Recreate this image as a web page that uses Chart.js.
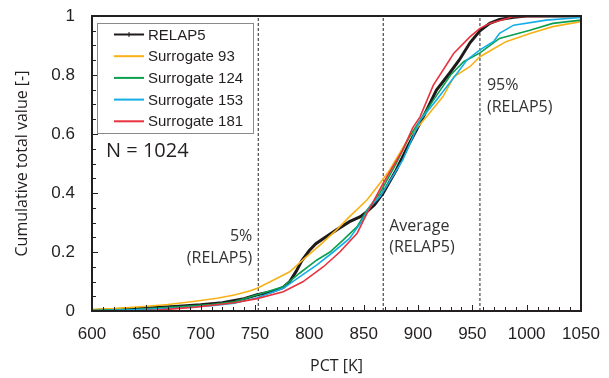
<!DOCTYPE html>
<html>
<head>
<meta charset="utf-8">
<script src="https://cdn.jsdelivr.net/npm/chart.js@4"></script>
<style>
  html, body { margin: 0; padding: 0; background: #fff; }
  #wrap { width: 609px; height: 378px; position: relative; }
</style>
</head>
<body>
<div id="wrap"><canvas id="cdfChart"></canvas></div>
<script>
// PCT [K] / cumulative value pairs
const relapPct = [600, 640, 680, 700, 720, 740, 752, 765, 776, 782, 788, 793, 800, 806, 813, 825, 837, 847, 853, 860, 868, 880, 892, 905, 917, 929, 938, 948, 957, 966, 975, 988, 1000, 1050];
const relapCdf = [0.002, 0.008, 0.016, 0.021, 0.028, 0.042, 0.055, 0.065, 0.08, 0.1, 0.135, 0.17, 0.205, 0.228, 0.246, 0.275, 0.303, 0.32, 0.337, 0.36, 0.40, 0.478, 0.568, 0.659, 0.749, 0.806, 0.851, 0.91, 0.95, 0.975, 0.988, 0.996, 1.0, 1.0];

const s93Pct = [600, 620, 648, 670, 695, 715, 731, 745, 752, 764, 782, 794, 810, 825, 837, 853, 865, 874, 892, 908, 923, 933, 948, 957, 970, 981, 1003, 1024, 1050];
const s93Cdf = [0.005, 0.008, 0.015, 0.022, 0.033, 0.043, 0.054, 0.068, 0.077, 0.099, 0.133, 0.173, 0.224, 0.275, 0.32, 0.376, 0.433, 0.478, 0.59, 0.659, 0.727, 0.794, 0.829, 0.862, 0.89, 0.913, 0.941, 0.964, 0.981];

const s124Pct = [600, 640, 680, 710, 731, 752, 776, 791, 807, 819, 831, 844, 853, 865, 880, 892, 905, 917, 930, 942, 957, 975, 1003, 1024, 1050];
const s124Cdf = [0.002, 0.006, 0.014, 0.022, 0.031, 0.055, 0.082, 0.128, 0.173, 0.2, 0.24, 0.286, 0.342, 0.40, 0.50, 0.59, 0.665, 0.73, 0.80, 0.845, 0.875, 0.924, 0.952, 0.975, 0.986];

const s153Pct = [600, 640, 680, 710, 731, 752, 776, 791, 807, 822, 837, 847, 856, 865, 886, 902, 917, 936, 945, 957, 970, 975, 988, 1018, 1050];
const s153Cdf = [0.001, 0.004, 0.01, 0.018, 0.026, 0.045, 0.077, 0.116, 0.156, 0.2, 0.246, 0.297, 0.354, 0.387, 0.512, 0.647, 0.715, 0.806, 0.851, 0.885, 0.915, 0.941, 0.969, 0.986, 0.995];

const s181Pct = [600, 634, 660, 695, 731, 752, 776, 794, 813, 828, 844, 853, 868, 886, 895, 902, 914, 929, 933, 948, 957, 966, 988, 1050];
const s181Cdf = [0.0, 0.0, 0.003, 0.013, 0.028, 0.042, 0.065, 0.099, 0.15, 0.2, 0.263, 0.331, 0.433, 0.546, 0.62, 0.659, 0.765, 0.851, 0.874, 0.93, 0.958, 0.975, 0.998, 1.0];

const seriesNames = ['RELAP5', 'Surrogate 93', 'Surrogate 124', 'Surrogate 153', 'Surrogate 181'];
const seriesColors = ['#1e1a1a', '#f7b217', '#0aa04f', '#14aee6', '#e8323e'];

// RELAP5 reference lines: 5%, average, 95%
const refPct = [753, 868, 957];
const xTicks = [600, 650, 700, 750, 800, 850, 900, 950, 1000, 1050];
const yTicks = [0, 0.2, 0.4, 0.6, 0.8, 1];

const pairs = (xs, ys) => xs.map((x, i) => ({ x, y: ys[i] }));
const curves = [
    pairs(relapPct, relapCdf),
    pairs(s93Pct, s93Cdf),
    pairs(s124Pct, s124Cdf),
    pairs(s153Pct, s153Cdf),
    pairs(s181Pct, s181Cdf)
];

const datasets = curves.map((d, i) => ({
    label: seriesNames[i],
    data: d,
    showLine: true,
    borderColor: seriesColors[i],
    backgroundColor: seriesColors[i],
    borderWidth: i === 0 ? 3 : 1.6,
    pointRadius: 0,
    tension: 0,
    order: 5 - i
}));

refPct.forEach(v => datasets.push({
    label: 'ref',
    data: [{ x: v, y: 0 }, { x: v, y: 1 }],
    showLine: true,
    borderColor: '#222',
    borderWidth: 1,
    borderDash: [3, 2],
    pointRadius: 0,
    order: 10
}));

const LABEL_FONT = '"Liberation Sans", Arial, sans-serif';
const NOTE_FONT = '"Open Sans", sans-serif';

// frame, inward ticks, legend, notes and axis titles
const decor = {
    id: 'decor',
    afterDraw(chart) {
        const { ctx, chartArea: a, scales: { x, y } } = chart;
        ctx.save();

        // inward ticks
        ctx.strokeStyle = '#231f20';
        ctx.lineWidth = 1;
        ctx.beginPath();
        for (let v = 600; v <= 1050; v += 10) {
            const px = Math.round(x.getPixelForValue(v)) + 0.5;
            ctx.moveTo(px, a.bottom);
            ctx.lineTo(px, a.bottom - (v % 50 === 0 ? 6 : 4));
        }
        for (let k = 0; k <= 20; k++) {
            const py = Math.round(y.getPixelForValue(k * 0.05)) + 0.5;
            ctx.moveTo(a.left, py);
            ctx.lineTo(a.left + (k % 4 === 0 ? 6 : 4), py);
        }
        ctx.stroke();

        // frame
        ctx.lineWidth = 2;
        ctx.strokeStyle = '#231f20';
        ctx.strokeRect(a.left, a.top, a.right - a.left, a.bottom - a.top);

        // legend box
        ctx.lineWidth = 1;
        ctx.strokeStyle = '#8a8a8a';
        ctx.strokeRect(97.5, 23.5, 156, 110);
        ctx.font = '15px ' + LABEL_FONT;
        ctx.textBaseline = 'middle';
        ctx.textAlign = 'left';
        seriesNames.forEach((name, i) => {
            const ly = 34.5 + i * 21.7;
            ctx.strokeStyle = seriesColors[i];
            ctx.lineWidth = 2;
            ctx.beginPath();
            ctx.moveTo(114, ly);
            ctx.lineTo(144, ly);
            ctx.stroke();
            if (i === 0) {
                ctx.lineWidth = 1;
                ctx.beginPath();
                ctx.moveTo(129, ly - 2.5);
                ctx.lineTo(129, ly + 2.5);
                ctx.stroke();
            }
            ctx.fillStyle = '#231f20';
            ctx.fillText(name, 148, ly + 1);
        });

        // N label
        ctx.font = '20px ' + NOTE_FONT;
        ctx.fillStyle = '#231f20';
        ctx.fillText('N = 1024', 106, 151);

        // reference notes
        ctx.font = '16px ' + NOTE_FONT;
        ctx.fillStyle = '#333';
        const x5 = x.getPixelForValue(refPct[0]);
        const xa = x.getPixelForValue(refPct[1]);
        const x95 = x.getPixelForValue(refPct[2]);
        ctx.textAlign = 'right';
        ctx.fillText('5%', x5 - 6, 236);
        ctx.fillText('(RELAP5)', x5 - 6, 258);
        ctx.textAlign = 'left';
        ctx.fillText('Average', xa + 6, 226);
        ctx.fillText('(RELAP5)', xa + 6, 247);
        ctx.fillText('95%', x95 + 7, 85);
        ctx.fillText('(RELAP5)', x95 + 7, 107);

        // axis titles
        ctx.font = '16px ' + NOTE_FONT;
        ctx.fillStyle = '#231f20';
        ctx.textAlign = 'center';
        ctx.fillText('PCT [K]', (a.left + a.right) / 2, 366);
        ctx.translate(22, (a.top + a.bottom) / 2);
        ctx.rotate(-Math.PI / 2);
        ctx.fillText('Cumulative total value [-]', 0, 0);

        ctx.restore();
    }
};

new Chart(document.getElementById('cdfChart'), {
    type: 'scatter',
    data: { datasets },
    options: {
        responsive: true,
        maintainAspectRatio: false,
        animation: false,
        layout: { autoPadding: false, padding: { top: 16, right: 28, left: 0, bottom: 0 } },
        plugins: {
            legend: { display: false },
            tooltip: { enabled: false }
        },
        scales: {
            x: {
                type: 'linear', min: 600, max: 1050,
                afterFit: s => { s.height = 67; s.paddingLeft = 0; s.paddingRight = 0; },
                afterBuildTicks: s => { s.ticks = xTicks.map(v => ({ value: v })); },
                grid: { display: false, drawTicks: false },
                border: { display: false },
                ticks: { color: '#231f20', padding: 13, maxRotation: 0, font: { family: LABEL_FONT, size: 17 },
                         callback: v => String(v) }
            },
            y: {
                min: 0, max: 1,
                afterFit: s => { s.width = 92; s.paddingTop = 0; s.paddingBottom = 0; },
                afterBuildTicks: s => { s.ticks = yTicks.map(v => ({ value: v })); },
                grid: { display: false, drawTicks: false },
                border: { display: false },
                ticks: { color: '#231f20', padding: 17, font: { family: LABEL_FONT, size: 17 },
                         callback: v => String(Math.round(v * 10) / 10) }
            }
        }
    },
    plugins: [decor]
});
</script>
</body>
</html>
